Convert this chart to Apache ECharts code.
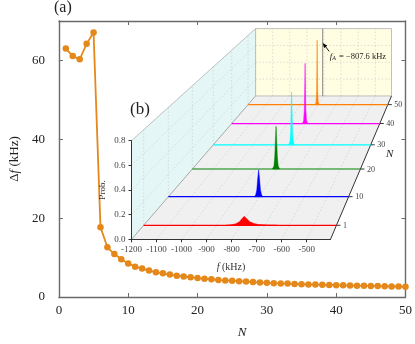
<!DOCTYPE html>
<html>
<head>
<meta charset="utf-8">
<script src="https://cdn.jsdelivr.net/npm/echarts@6/dist/echarts.min.js"></script>
<style>
html,body{margin:0;padding:0;background:#fff;}
#chart{width:415px;height:344px;}
</style>
</head>
<body>
<div id="chart"></div>
<script>
// (a) frequency spread vs N
var nValues = [1,2,3,4,5,6,7,8,9,10,11,12,13,14,15,16,17,18,19,20,21,22,23,24,25,
               26,27,28,29,30,31,32,33,34,35,36,37,38,39,40,41,42,43,44,45,46,47,48,49,50];
var deltaF = [63.0,61.1,60.3,64.2,67.1,17.7,12.6,10.9,9.6,8.5,7.7,7.2,6.7,6.3,6.0,5.7,5.4,5.2,5.0,4.8,
              4.6,4.5,4.3,4.2,4.1,4.0,3.9,3.8,3.7,3.6,3.5,3.45,3.4,3.3,3.25,3.2,3.15,3.1,3.05,3.0,
              2.95,2.9,2.87,2.83,2.8,2.76,2.72,2.69,2.65,2.6];
var mainXTicks = [0,10,20,30,40,50];
var mainYTicks = [0,20,40,60];

// (b) inset, probability profiles
var fTicks = [-1200,-1100,-1000,-900,-800,-700,-600,-500];
var probTicks = [0,0.2,0.4,0.6,0.8];
var nTicks = [1,10,20,30,40,50];
var peakN = [1,10,20,30,40,50];
var peakColors = ['#ff0000','#0000ff','#008000','#00ffff','#ff00ff','#ff8000'];
var peakRed = [[-860,0],[-840,0.004],[-820,0.012],[-805,0.03],[-795,0.055],[-785,0.076],[-775,0.055],[-762,0.03],[-745,0.014],[-725,0.006],[-690,0.002],[-650,0]];
var peakBlue = [[-822,0],[-815,0.015],[-810,0.06],[-806,0.16],[-802,0.24],[-798,0.16],[-794,0.06],[-789,0.015],[-782,0]];
var peakGreen = [[-821,0],[-814,0.03],[-810,0.12],[-806,0.32],[-804,0.41],[-802,0.32],[-798,0.12],[-794,0.03],[-787,0]];
var peakCyan = [[-820,0],[-813,0.03],[-809,0.14],[-806,0.42],[-804.5,0.54],[-803,0.42],[-800,0.14],[-796,0.03],[-789,0]];
var peakMagenta = [[-820,0],[-814,0.03],[-810,0.15],[-807,0.5],[-806,0.655],[-805,0.5],[-802,0.15],[-798,0.03],[-792,0]];
var peakOrange = [[-818,0],[-813,0.03],[-810,0.15],[-808,0.55],[-807,0.745],[-806,0.55],[-804,0.15],[-801,0.03],[-796,0]];
var peakCurves = [peakRed, peakBlue, peakGreen, peakCyan, peakMagenta, peakOrange];
var fA = -807.6;
var fRange = [-1200, -405];
var nRange = [-3, 55];
var probMax = 0.8;

var serif = '"Liberation Serif", "DejaVu Serif", serif';
var orange = '#e5881a';
var frame = '#6a6a6a';

// perspective: front plane is the inset grid, depth shrinks toward a vanishing point
var VP = [523, -213];
var depthK = 0.008;
function project(api, f, n, p){
    var c = api.coord([f, p]);
    var s = 1 / (1 + depthK * (n - nRange[0]));
    return [VP[0] + (c[0] - VP[0]) * s, VP[1] + (c[1] - VP[1]) * s];
}
function seg(a, b, style){
    return {type:'line', shape:{x1:a[0], y1:a[1], x2:b[0], y2:b[1]}, style:style};
}

function renderBox(params, api){
    var P = function(f, n, p){ return project(api, f, n, p); };
    var f0 = fRange[0], f1 = fRange[1], n0 = nRange[0], n1 = nRange[1];
    var kids = [];
    kids.push({type:'polygon', shape:{points:[P(f0,n0,0),P(f1,n0,0),P(f1,n1,0),P(f0,n1,0)]}, style:{fill:'#f0f0f0'}});
    kids.push({type:'polygon', shape:{points:[P(f0,n0,0),P(f0,n0,probMax),P(f0,n1,probMax),P(f0,n1,0)]}, style:{fill:'#e5f6f6'}});
    kids.push({type:'polygon', shape:{points:[P(f0,n1,0),P(f1,n1,0),P(f1,n1,probMax),P(f0,n1,probMax)]}, style:{fill:'#fffde2'}});
    var g = {stroke:'#c8c8c8', lineWidth:0.6, lineDash:[1.5,2]};
    fTicks.forEach(function(f){
        kids.push(seg(P(f,n0,0), P(f,n1,0), g));
        kids.push(seg(P(f,n1,0), P(f,n1,probMax), g));
    });
    probTicks.slice(1, -1).forEach(function(p){
        kids.push(seg(P(f0,n0,p), P(f0,n1,p), g));
        kids.push(seg(P(f0,n1,p), P(f1,n1,p), g));
    });
    nTicks.forEach(function(n){
        kids.push(seg(P(f0,n,0), P(f0,n,probMax), g));
    });
    var edge = {stroke:'#b0b0b0', lineWidth:0.8};
    kids.push(seg(P(f0,n0,probMax), P(f0,n1,probMax), edge));
    kids.push(seg(P(f0,n1,probMax), P(f1,n1,probMax), edge));
    kids.push(seg(P(f1,n1,0), P(f1,n1,probMax), edge));
    kids.push(seg(P(f0,n1,0), P(f0,n1,probMax), edge));
    kids.push(seg(P(f0,n0,0), P(f0,n1,0), {stroke:'#999', lineWidth:0.8}));
    kids.push(seg(P(f0,n1,0), P(f1,n1,0), edge));
    // f_A marker on back wall
    kids.push(seg(P(fA,n1,0), P(fA,n1,probMax), {stroke:'#8a8a8a', lineWidth:1}));
    // N axis
    kids.push(seg(P(f1,n0,0), P(f1,n1,0), {stroke:'#333', lineWidth:1}));
    nTicks.forEach(function(n){
        var q = P(f1,n,0);
        kids.push(seg(q, [q[0]+4, q[1]], {stroke:'#333', lineWidth:1}));
        kids.push({type:'text', style:{text:String(n), x:q[0]+6.5, y:q[1]+0.5, fill:'#444',
            font:'8px ' + serif, align:'left', verticalAlign:'middle'}});
    });
    var qn = P(f1, 25, 0);
    kids.push({type:'text', style:{text:'N', x:qn[0]+24, y:qn[1]-2, fill:'#222',
        font:'italic 11px ' + serif, align:'center', verticalAlign:'middle'}});
    return {type:'group', children:kids};
}

function renderPeak(params, api){
    var i = api.value(2);
    var n = peakN[i], col = peakColors[i];
    var pts = peakCurves[i].map(function(d){ return project(api, d[0], n, d[1]); });
    return {type:'group', children:[
        seg(project(api, fRange[0], n, 0), project(api, fRange[1], n, 0), {stroke:col, lineWidth:1.2}),
        {type:'polygon', shape:{points:pts}, style:{fill:col, stroke:col, lineWidth:0.5}}
    ]};
}

function renderNote(params, api){
    var tip = project(api, fA, nRange[1], 0.63);
    var tail = [tip[0]+6.5, tip[1]+8.5];
    var dx = tip[0]-tail[0], dy = tip[1]-tail[1], len = Math.sqrt(dx*dx+dy*dy);
    var ux = dx/len, uy = dy/len;
    var b = [tip[0]-ux*5, tip[1]-uy*5];
    return {type:'group', children:[
        seg(tail, b, {stroke:'#000', lineWidth:0.9}),
        {type:'polygon', shape:{points:[tip,[b[0]-uy*2,b[1]+ux*2],[b[0]+uy*2,b[1]-ux*2]]}, style:{fill:'#000'}},
        {type:'text', style:{text:'{i|f}{s|A} = \u2212807.6 kHz', x:tip[0]+7, y:tip[1]+13.5,
            align:'left', verticalAlign:'middle', fill:'#222', font:'8.5px ' + serif,
            rich:{i:{fontStyle:'italic', fontSize:9, fontFamily:serif, fill:'#222'},
                  s:{fontStyle:'italic', fontSize:6, fontFamily:serif, fill:'#222', verticalAlign:'bottom', padding:[4,1,0,0]}}}}
    ]};
}

var chart = echarts.init(document.getElementById('chart'));
var labelFont = {fontFamily:serif, fontSize:13, color:'#222'};
var insetFont = {fontFamily:serif, fontSize:9, color:'#444'};

var option = {
    animation:false,
    title:[
        {text:'(a)', left:54, top:0, padding:0, textStyle:{fontFamily:serif, fontSize:16, fontWeight:'normal', color:'#222'}},
        {text:'(b)', left:130, top:101, padding:0, textStyle:{fontFamily:serif, fontSize:17, fontWeight:'normal', color:'#222'}}
    ],
    grid:[
        {left:48, right:7, top:21, bottom:41},
        {left:131.5, top:140.7, width:199, height:98.6}
    ],
    xAxis:[
        {gridIndex:0, type:'value', min:0, max:50, interval:10, position:'bottom',
         name:'N', nameLocation:'middle', nameGap:29,
         nameTextStyle:{fontFamily:serif, fontSize:13, fontStyle:'italic', color:'#222', padding:[0,0,0,20]},
         axisLine:{onZero:false, lineStyle:{color:frame, width:1.4}},
         axisTick:{inside:true, length:4, customValues:mainXTicks, lineStyle:{color:frame}},
         axisLabel:Object.assign({margin:7, customValues:mainXTicks}, labelFont),
         splitLine:{show:false}},
        {gridIndex:0, type:'value', min:0, max:50, interval:10, position:'top',
         axisLine:{onZero:false, lineStyle:{color:frame, width:1.4}},
         axisTick:{inside:true, length:4, lineStyle:{color:frame}},
         axisLabel:{show:false}, splitLine:{show:false}},
        {gridIndex:1, type:'value', min:fRange[0], max:fRange[1], z:6,
         name:'{i|f}{r| (kHz)}', nameLocation:'middle', nameGap:23,
         nameTextStyle:{rich:{i:{fontFamily:serif, fontSize:10, fontStyle:'italic', color:'#333'},
                              r:{fontFamily:serif, fontSize:10, color:'#333'}}},
         axisLine:{onZero:false, lineStyle:{color:'#333', width:1}},
         axisTick:{length:3, customValues:fTicks, lineStyle:{color:'#333'}},
         axisLabel:Object.assign({margin:6, customValues:fTicks,
             formatter:function(v){ return String(v); }}, insetFont),
         splitLine:{show:false}}
    ],
    yAxis:[
        {gridIndex:0, type:'value', min:0, max:70,
         name:'{d|\u0394}{i|f}{d| (kHz)}', nameLocation:'middle', nameGap:33,
         nameTextStyle:{rich:{d:{fontFamily:serif, fontSize:13, color:'#222'},
                              i:{fontFamily:serif, fontSize:13, fontStyle:'italic', color:'#222'}}},
         axisLine:{onZero:false, lineStyle:{color:frame, width:1.4}},
         axisTick:{inside:true, length:4, customValues:mainYTicks, lineStyle:{color:frame}},
         axisLabel:Object.assign({margin:14, customValues:mainYTicks}, labelFont),
         splitLine:{show:false}},
        {gridIndex:0, type:'value', min:0, max:70, position:'right',
         axisLine:{onZero:false, lineStyle:{color:frame, width:1.4}},
         axisTick:{inside:true, length:4, customValues:mainYTicks, lineStyle:{color:frame}},
         axisLabel:{show:false}, splitLine:{show:false}},
        {gridIndex:1, type:'value', min:0, max:probMax, interval:0.2, z:6,
         name:'Prob.', nameLocation:'middle', nameGap:24,
         nameTextStyle:{fontFamily:serif, fontSize:9, color:'#333'},
         axisLine:{onZero:false, lineStyle:{color:'#333', width:1}},
         axisTick:{length:3, lineStyle:{color:'#333'}},
         axisLabel:Object.assign({margin:6, formatter:function(v){ return v.toFixed(1); }}, insetFont),
         splitLine:{show:false}}
    ],
    series:[
        {type:'line', xAxisIndex:0, yAxisIndex:0, z:2,
         data:nValues.map(function(n, i){ return [n, deltaF[i]]; }),
         symbol:'circle', symbolSize:6.5,
         itemStyle:{color:orange}, lineStyle:{color:orange, width:1.8}},
        {type:'custom', xAxisIndex:2, yAxisIndex:2, z:3, silent:true,
         renderItem:renderBox, data:[[fA, 0]]},
        {type:'custom', xAxisIndex:2, yAxisIndex:2, z:4, silent:true,
         renderItem:renderPeak,
         data:[5,4,3,2,1,0].map(function(i){ return [fA, 0, i]; })},
        {type:'custom', xAxisIndex:2, yAxisIndex:2, z:5, silent:true,
         renderItem:renderNote, data:[[fA, 0]]}
    ]
};
chart.setOption(option);
</script>
</body>
</html>
